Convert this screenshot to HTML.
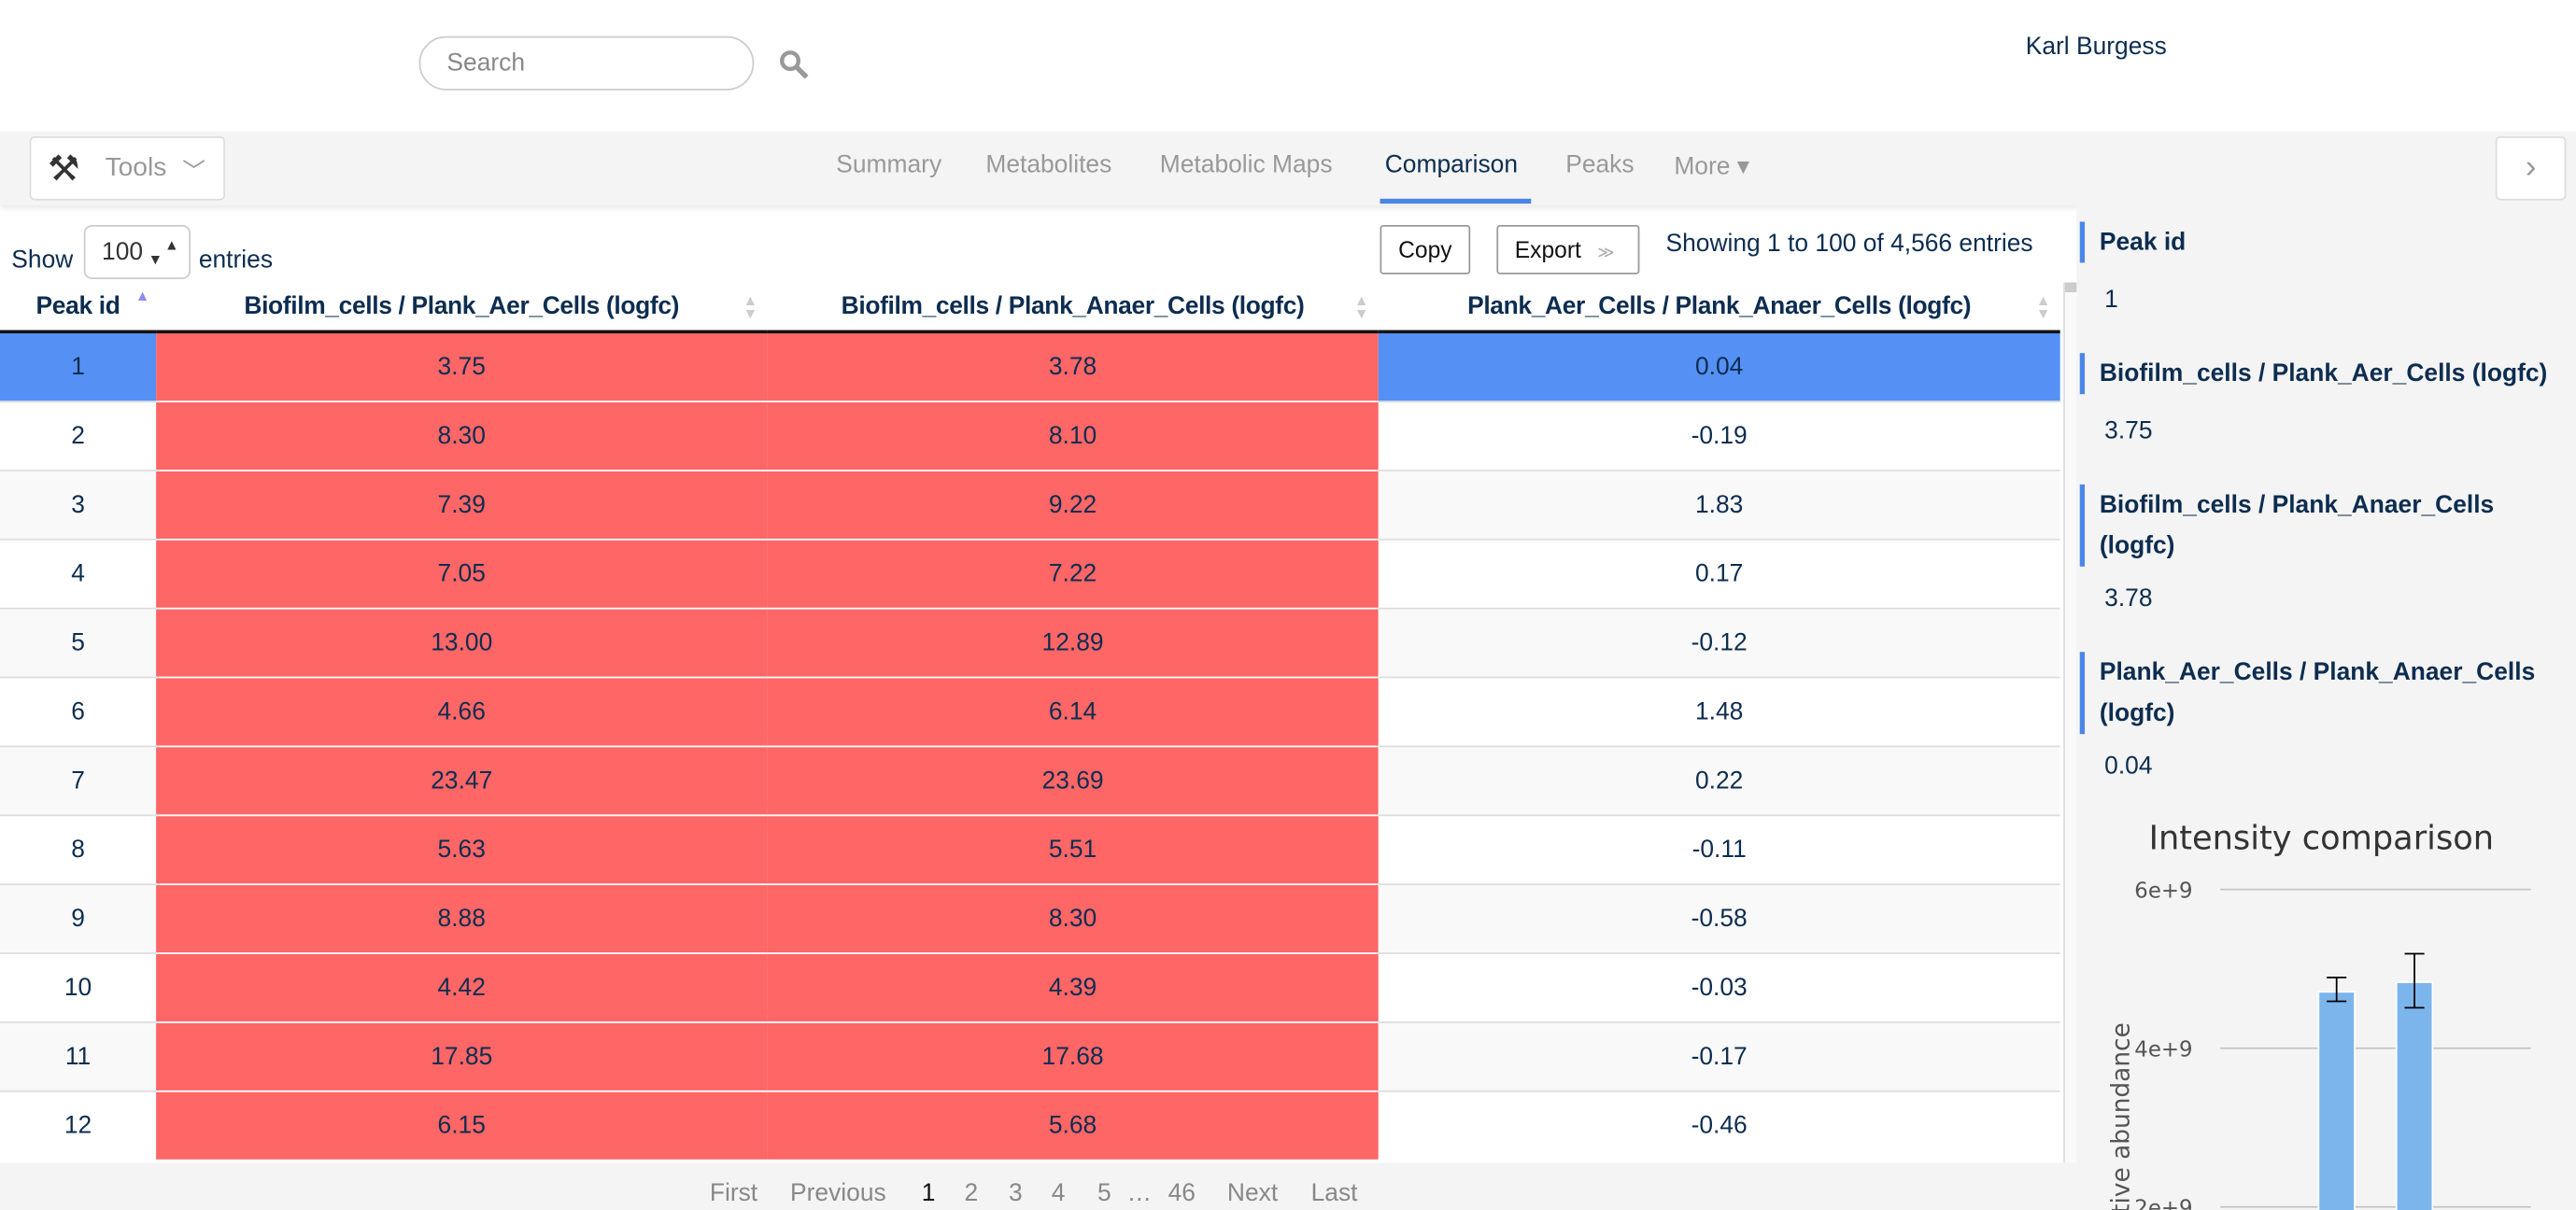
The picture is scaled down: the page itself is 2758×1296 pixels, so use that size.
<!DOCTYPE html>
<html><head><meta charset="utf-8">
<style>
html,body{margin:0;padding:0;width:2758px;height:1296px;overflow:hidden;background:#fff}
#root{position:absolute;left:0;top:0;width:1568px;height:737px;overflow:hidden;transform:scale(1.7589);transform-origin:0 0;font-family:"Liberation Sans",Arial,sans-serif;color:#0d2d50}
.abs{position:absolute}
.nav a{position:absolute;top:92px;font-size:15px;color:#999;text-decoration:none}
table{border-collapse:collapse;position:absolute;left:0;top:172px;width:1254px;table-layout:fixed}
th{height:29px;font-size:15px;font-weight:bold;color:#0d2d50;border-bottom:2px solid #111;position:relative;padding:0;letter-spacing:-0.2px}
td{height:41px;text-align:center;font-size:15px;color:#0d2d50;border-top:1px solid #ddd;padding:0}
tr.odd td{background:#f9f9f9}
td.red{background:#ff6666!important;border-top:1px solid #fff}
tr.sel td.bl{background:#5591f5}
.si{position:absolute;right:6px;top:7px;font-size:9px;color:#ccc;line-height:8px}
.sb .h{position:absolute;left:1266px;border-left:3px solid #4a86e8;padding-left:9px;font-weight:bold;font-size:15px;line-height:25px;width:285px;white-space:nowrap}
.sb .v{position:absolute;left:1281px;font-size:15px}
.pg{position:absolute;top:718px;font-size:15px;color:#888}
</style></head><body>
<div id="root">
<div class="abs" style="left:0;top:0;width:1568px;height:80px;background:#fff"></div>
<div class="abs" style="left:255px;top:22px;width:202px;height:31px;border:1px solid #ccc;border-radius:17px;font-size:15px;color:#888;line-height:31px;text-indent:16px">Search</div>
<svg class="abs" style="left:474px;top:30px" width="20" height="20"><circle cx="7" cy="7" r="5" fill="none" stroke="#999" stroke-width="2.5"/><line x1="11" y1="11" x2="17" y2="17" stroke="#999" stroke-width="3"/></svg>
<div class="abs" style="left:1233px;top:20px;font-size:15px;color:#0d2d50">Karl Burgess</div>
<div class="abs" style="left:0;top:80px;width:1568px;height:45px;background:#f4f4f4;box-shadow:0 2px 3px rgba(0,0,0,.08)"></div>
<div class="nav">
<div class="abs" style="left:18px;top:83px;width:117px;height:37px;background:#fff;border:1px solid #ddd;border-radius:3px;font-size:16px;color:#999;line-height:37px"><span style="position:absolute;left:10px;font-size:22px;color:#333">⚒</span><span style="position:absolute;left:45px">Tools</span><span style="position:absolute;left:92px;top:2px;font-size:14px">﹀</span></div>
<a style="left:509px">Summary</a>
<a style="left:600px">Metabolites</a>
<a style="left:706px">Metabolic Maps</a>
<a style="left:843px;color:#0d2d50">Comparison</a>
<div class="abs" style="left:840px;top:121px;width:92px;height:3px;background:#4a86e8"></div>
<a style="left:953px">Peaks</a>
<a style="left:1019px">More ▾</a>
<div class="abs" style="left:1519px;top:83px;width:41px;height:37px;background:#fff;border:1px solid #ddd;border-radius:3px;text-align:center;line-height:37px;color:#999;font-size:20px">›</div>
</div>
<div class="abs" style="left:7px;top:150px;font-size:15px">Show</div>
<div class="abs" style="left:51px;top:137px;width:63px;height:31px;border:1px solid #ccc;border-radius:5px;font-size:15px;line-height:31px;text-indent:10px;color:#333">100 <span style="position:absolute;right:6px;font-size:9px;line-height:9px;top:7px">▲<br>▼</span></div>
<div class="abs" style="left:121px;top:150px;font-size:15px">entries</div>
<div class="abs" style="left:840px;top:137px;width:53px;height:28px;border:1px solid #999;border-radius:2px;font-size:14px;line-height:28px;text-align:center;color:#111;background:#fff">Copy</div>
<div class="abs" style="left:911px;top:137px;width:85px;height:28px;border:1px solid #999;border-radius:2px;font-size:14px;line-height:28px;color:#111;background:#fff;text-indent:10px">Export <span style="color:#aaa;font-size:10px;margin-left:6px">≫</span></div>
<div class="abs" style="left:1014px;top:140px;font-size:15px">Showing 1 to 100 of 4,566 entries</div>
<table>
<colgroup><col style="width:95px"><col style="width:372px"><col style="width:372px"><col style="width:415px"></colgroup>
<thead><tr>
<th>Peak id<span class="si" style="color:#8b8bf0;right:4px;top:4px">▲</span></th>
<th>Biofilm_cells / Plank_Aer_Cells (logfc)<span class="si">▲<br>▼</span></th>
<th>Biofilm_cells / Plank_Anaer_Cells (logfc)<span class="si">▲<br>▼</span></th>
<th>Plank_Aer_Cells / Plank_Anaer_Cells (logfc)<span class="si">▲<br>▼</span></th>
</tr></thead>
<tbody id="tb"></tbody>
</table>
<div class="abs" style="left:1256px;top:172px;width:9px;height:536px;background:#fafafa;border-left:1px solid #ddd"><div style="width:9px;height:6px;background:#ccc"></div></div>
<div class="abs" style="left:0;top:708px;width:1264px;height:29px;background:#f4f4f4"></div>
<div id="pg"></div>
<div class="abs" style="left:1264px;top:125px;width:304px;height:612px;background:#f4f4f4"></div>
<div class="sb">
<div class="h" style="top:135px">Peak id</div>
<div class="v" style="top:174px">1</div>
<div class="h" style="top:215px">Biofilm_cells / Plank_Aer_Cells (logfc)</div>
<div class="v" style="top:254px">3.75</div>
<div class="h" style="top:295px">Biofilm_cells / Plank_Anaer_Cells<br>(logfc)</div>
<div class="v" style="top:356px">3.78</div>
<div class="h" style="top:397px">Plank_Aer_Cells / Plank_Anaer_Cells<br>(logfc)</div>
<div class="v" style="top:458px">0.04</div>
</div>
<svg id="chart" class="abs" style="left:1264px;top:480px" width="304" height="257"></svg>
</div>
<script>
const ids=[1,2,3,4,5,6,7,8,9,10,11,12];
const aer=["3.75","8.30","7.39","7.05","13.00","4.66","23.47","5.63","8.88","4.42","17.85","6.15"];
const anaer=["3.78","8.10","9.22","7.22","12.89","6.14","23.69","5.51","8.30","4.39","17.68","5.68"];
const plank=["0.04","-0.19","1.83","0.17","-0.12","1.48","0.22","-0.11","-0.58","-0.03","-0.17","-0.46"];
const tb=document.getElementById('tb');
ids.forEach((id,i)=>{
 const tr=document.createElement('tr');
 
 
 if(i===0)tr.className='sel';else if(i%2===0)tr.className='odd';
 tr.innerHTML='<td class="bl">'+id+'</td><td class="red">'+aer[i]+'</td><td class="red">'+anaer[i]+'</td><td class="bl">'+plank[i]+'</td>';
 tb.appendChild(tr);
});
const pgLabels=["First","Previous","1","2","3","4","5","…","46","Next","Last"];
const pgX=[432,481,561,587,614,640,668,686,711,747,798];
const pg=document.getElementById('pg');
pgLabels.forEach((l,i)=>{
 const d=document.createElement('div');
 
 
 d.className='pg';d.style.left=pgX[i]+'px';d.textContent=l;
 if(l==='1')d.style.color='#111';
 pg.appendChild(d);
});
const groups=["Biofilm_cells","Plank_Aer_Cells"];
const means=[4.71e9,4.83e9];
const errLo=[4.59e9,4.51e9];
const errHi=[4.89e9,5.19e9];
const ticks=[2e9,4e9,6e9];
const tickLabels=["2e+9","4e+9","6e+9"];
const ns='http://www.w3.org/2000/svg';
const svg=document.getElementById('chart');
const ox=1264,oy=480;
const y=v=>(638.3-(v-4e9)/2e9*96.7)-oy;
const bx=[1411.3-ox,1458.7-ox], bw=22;
function el(t,a){const e=document.createElementNS(ns,t);for(const k in a)e.setAttribute(k,a[k]);svg.appendChild(e);return e;}
let t=el('text',{x:149,y:37,'text-anchor':'middle','font-size':20,fill:'#333','font-family':'DejaVu Sans, sans-serif'});


t.textContent='Intensity comparison';
ticks.forEach((v,i)=>{
 const g=el('line',{x1:1351.5-ox,x2:1540.5-ox,y1:y(v),y2:y(v),stroke:'#c4c4c4','stroke-width':1});
 
 
 const l=el('text',{x:1334.7-ox,y:y(v)+5,'text-anchor':'end','font-size':13,fill:'#555','font-family':'DejaVu Sans, sans-serif'});
 
 
 l.textContent=tickLabels[i];
});
t=el('text',{transform:'translate(32,217) rotate(-90)','font-size':15,fill:'#555','text-anchor':'middle','font-family':'DejaVu Sans, sans-serif'});


t.textContent='Relative abundance';
means.forEach((m,i)=>{
 const r=el('rect',{x:bx[i],y:y(m),width:bw,height:300,fill:'#7cb5ec',stroke:'#fff','stroke-width':1});
 
 
 const cx=bx[i]+bw/2;
 const e=el('path',{d:`M${cx-6},${y(errHi[i])}H${cx+6}M${cx},${y(errHi[i])}V${y(errLo[i])}M${cx-6},${y(errLo[i])}H${cx+6}`,stroke:'#000','stroke-width':1,fill:'none'});
 
 
});
</script>
</body></html>
